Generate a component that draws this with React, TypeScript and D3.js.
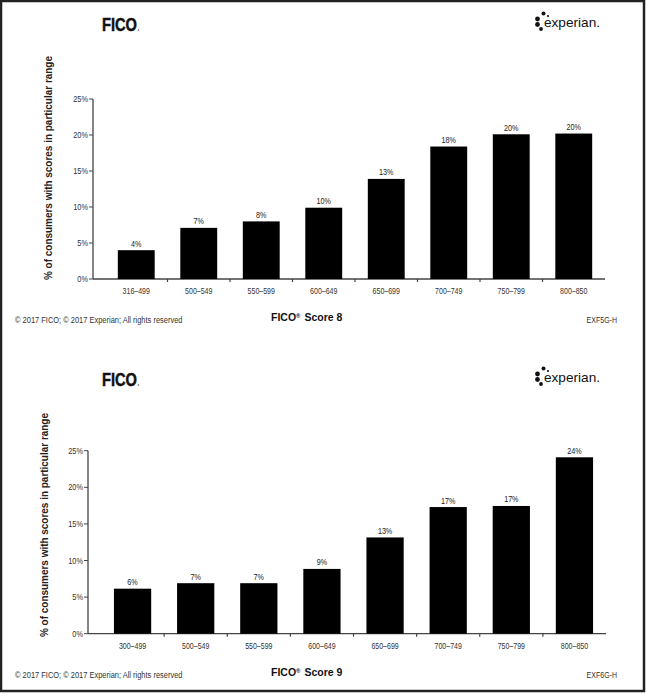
import React, { useEffect, useRef } from "react";
import * as d3 from "d3";

// FICO Score 8 distribution
const fico8Ranges = ["316–499", "500–549", "550–599", "600–649", "650–699", "700–749", "750–799", "800–850"];
const fico8Values = [4.0, 7.1, 8.0, 9.9, 13.9, 18.4, 20.1, 20.2];
const fico8Labels = ["4%", "7%", "8%", "10%", "13%", "18%", "20%", "20%"];

// FICO Score 9 distribution
const fico9Ranges = ["300–499", "500–549", "550–599", "600–649", "650–699", "700–749", "750–799", "800–850"];
const fico9Values = [6.15, 6.9, 6.9, 8.85, 13.15, 17.3, 17.45, 24.1];
const fico9Labels = ["6%", "7%", "7%", "9%", "13%", "17%", "17%", "24%"];

const yTicks = [0, 5, 10, 15, 20, 25];

const W = 646;
const H = 694;
const SANS = "'Liberation Sans', Arial, sans-serif";

// the source uses a condensed face, so squeeze the sans horizontally
const narrowText = (g, x, y, txt, opts = {}) =>
  g
    .append("text")
    .attr("transform", `translate(${x},${y}) scale(${opts.sx || 0.8},1)`)
    .attr("text-anchor", opts.anchor || "start")
    .attr("dy", opts.dy || 0)
    .attr("font-family", SANS)
    .attr("font-size", opts.size || 9)
    .attr("fill", opts.fill || "#333")
    .text(txt);

const drawPanel = (svg, p) => {
  const g = svg.append("g").attr("transform", `translate(0,${p.dy})`);

  const x = d3
    .scaleBand()
    .domain(p.ranges)
    .range([p.bandStart, p.bandEnd])
    .paddingInner(0.41)
    .paddingOuter(0.205);
  const y = d3.scaleLinear().domain([0, 25]).range([p.yZero, p.yTop]);

  // logos
  g.append("text")
    .attr("x", 102)
    .attr("y", 31)
    .attr("font-family", SANS)
    .attr("font-weight", "bold")
    .attr("font-size", 18.5)
    .attr("textLength", 35)
    .attr("lengthAdjust", "spacingAndGlyphs")
    .attr("stroke", "#111")
    .attr("stroke-width", 0.5)
    .attr("fill", "#111")
    .text("FICO");
  g.append("circle").attr("cx", 138.5).attr("cy", 30).attr("r", 0.8).attr("fill", "#555");

  const dots = [
    [543.5, 13.5, 2],
    [548, 16, 1.1],
    [537.5, 19, 2.4],
    [537.5, 24.5, 2.4],
    [541, 29, 1.9],
  ];
  g.selectAll(".dot")
    .data(dots)
    .enter()
    .append("circle")
    .attr("cx", (d) => d[0])
    .attr("cy", (d) => d[1])
    .attr("r", (d) => d[2])
    .attr("fill", "#111");
  g.append("text")
    .attr("x", 544)
    .attr("y", 27)
    .attr("font-family", SANS)
    .attr("font-size", 13.5)
    .attr("textLength", 56)
    .attr("lengthAdjust", "spacingAndGlyphs")
    .attr("fill", "#111")
    .text("experian.");

  // y axis
  g.append("line")
    .attr("x1", p.axisX)
    .attr("x2", p.axisX)
    .attr("y1", y(25))
    .attr("y2", y(0))
    .attr("stroke", "#444")
    .attr("stroke-width", 1.3);
  yTicks.forEach((t) => {
    g.append("line")
      .attr("x1", p.axisX - 4)
      .attr("x2", p.axisX)
      .attr("y1", y(t))
      .attr("y2", y(t))
      .attr("stroke", "#444")
      .attr("stroke-width", 1);
    narrowText(g, p.axisX - 5, y(t), `${t}%`, { anchor: "end", dy: "0.35em", sx: 0.82 });
  });

  // x axis
  g.append("line")
    .attr("x1", p.axisX)
    .attr("x2", p.bandEnd)
    .attr("y1", y(0))
    .attr("y2", y(0))
    .attr("stroke", "#444")
    .attr("stroke-width", 1.3);
  p.ranges.slice(1).forEach((r) => {
    const bx = x(r) - (x.step() - x.bandwidth()) / 2;
    g.append("line")
      .attr("x1", bx)
      .attr("x2", bx)
      .attr("y1", y(0))
      .attr("y2", y(0) + 3)
      .attr("stroke", "#444")
      .attr("stroke-width", 1.2);
  });
  p.ranges.forEach((r) => {
    narrowText(g, x(r) + x.bandwidth() / 2, y(0) + 15, r, { anchor: "middle", sx: 0.78 });
  });

  // bars
  g.selectAll(".bar")
    .data(p.values)
    .enter()
    .append("rect")
    .attr("x", (d, i) => x(p.ranges[i]))
    .attr("y", (d) => y(d))
    .attr("width", x.bandwidth())
    .attr("height", (d) => y(0) - y(d))
    .attr("fill", "#000");
  p.values.forEach((v, i) => {
    narrowText(g, x(p.ranges[i]) + x.bandwidth() / 2, y(v) - 3.5, p.labels[i], {
      anchor: "middle",
      fill: "#222",
      sx: 0.8,
    });
  });

  // y label
  g.append("text")
    .attr("transform", `translate(${p.labelX},${p.labelBottom}) rotate(-90)`)
    .attr("dy", "0.35em")
    .attr("font-family", SANS)
    .attr("font-weight", "bold")
    .attr("font-size", 10.5)
    .attr("textLength", 224)
    .attr("lengthAdjust", "spacingAndGlyphs")
    .attr("fill", "#222")
    .text("% of consumers with scores in particular range");

  // footer
  narrowText(g, 15, 323, "© 2017 FICO; © 2017 Experian; All rights reserved", { sx: 0.83 });
  const title = g
    .append("text")
    .attr("x", 271)
    .attr("y", 321)
    .attr("font-family", SANS)
    .attr("font-weight", "bold")
    .attr("font-size", 10.5)
    .attr("fill", "#111");
  title.append("tspan").text("FICO");
  title.append("tspan").attr("font-size", 6).attr("dy", -3.5).text("®");
  title.append("tspan").attr("dy", 3.5).attr("dx", 4).text(`Score ${p.version}`);
  narrowText(g, 617, 323, p.code, { anchor: "end", sx: 0.78 });
};

const App = () => {
  const svgRef = useRef(null);

  useEffect(() => {
    const svg = d3.select(svgRef.current);
    svg.selectAll("*").remove();

    svg
      .append("rect")
      .attr("width", W)
      .attr("height", H)
      .attr("fill", "#fff");

    drawPanel(svg, {
      dy: 0,
      ranges: fico8Ranges,
      values: fico8Values,
      labels: fico8Labels,
      version: "8",
      code: "EXF5G-H",
      axisX: 93,
      yZero: 279,
      yTop: 99,
      bandStart: 105,
      bandEnd: 605,
      labelX: 48,
      labelBottom: 280,
    });
    drawPanel(svg, {
      dy: 355,
      ranges: fico9Ranges,
      values: fico9Values,
      labels: fico9Labels,
      version: "9",
      code: "EXF6G-H",
      axisX: 88,
      yZero: 278.7,
      yTop: 95.7,
      bandStart: 101,
      bandEnd: 606,
      labelX: 44,
      labelBottom: 282,
    });

    svg
      .append("rect")
      .attr("x", 1)
      .attr("y", 1)
      .attr("width", W - 3)
      .attr("height", H - 4)
      .attr("fill", "none")
      .attr("stroke", "#222")
      .attr("stroke-width", 2.5);
  }, []);

  return (
    <svg
      ref={svgRef}
      width={W}
      height={H}
      style={{ position: "absolute", left: 0, top: 0 }}
    />
  );
};

export default App;
